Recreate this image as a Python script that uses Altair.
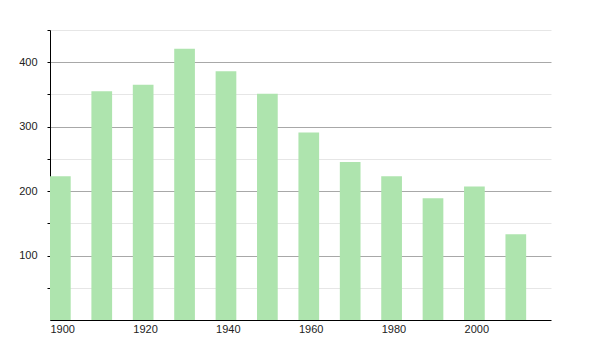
import altair as alt
import pandas as pd

years = [1900, 1910, 1920, 1930, 1940, 1950, 1960, 1970, 1980, 1990, 2000, 2010]
values = [223, 355, 365, 421, 386, 351, 291, 245, 223, 189, 207, 133]
x_labels = [1900, 1920, 1940, 1960, 1980, 2000]
y_ticks = [50, 100, 150, 200, 250, 300, 350, 400, 450]

df = pd.DataFrame({"year": years, "value": values})

chart = alt.Chart(df).transform_calculate(
    year_end="datum.year + 5", base="0"
).mark_rect(color="#aee4ae").encode(
    x=alt.X("year:Q", scale=alt.Scale(domain=[1900, 2021], nice=False, zero=False),
            axis=alt.Axis(values=x_labels, format="d", title=None, grid=False, ticks=False,
                          labelAlign="left", labelPadding=3, labelFontSize=11,
                          labelColor="#222", domainColor="#000", labelFont="Liberation Sans")),
    x2="year_end:Q",
    y=alt.Y("value:Q", scale=alt.Scale(domain=[0, 450], nice=False),
            axis=alt.Axis(values=y_ticks, title=None, grid=True,
                          gridColor={"condition": {"test": "datum.value % 100 === 0", "value": "#a8a8a8"}, "value": "#e6e6e6"},
                          labelExpr="datum.value % 100 === 0 ? datum.label : ''",
                          tickSize=3, tickColor="#000", domainColor="#000",
                          labelPadding=10, labelFontSize=11, labelColor="#222",
                          labelFont="Liberation Sans")),
    y2="base:Q",
).properties(
    width=501, height=290,
    autosize=alt.AutoSizeParams(type="none"),
    padding={"left": 50, "top": 30, "right": 49, "bottom": 30},
).configure_view(stroke=None)

chart.save("out.html", embed_options={"renderer": "svg", "actions": False})
